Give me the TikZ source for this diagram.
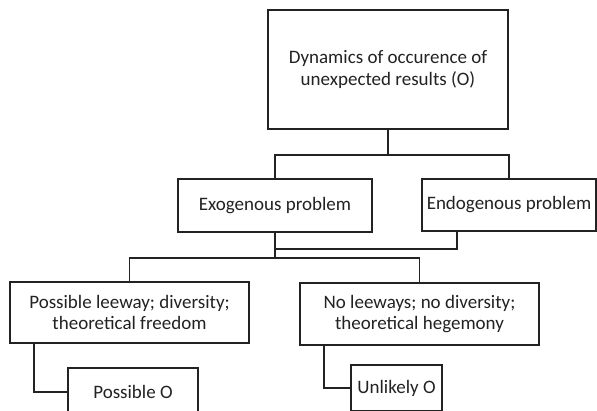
\documentclass[tikz,border=0pt]{standalone}
\usepackage{fontspec}
\setmainfont{Carlito}
\usepackage{xcolor}
\usetikzlibrary{positioning,calc}
\definecolor{ink}{HTML}{222222}

\begin{document}
\begin{tikzpicture}[
  x=1pt, y=-1pt,
  font=\fontsize{19}{21.5}\selectfont,
  box/.style={draw=ink, line width=1.6pt, fill=white, text=ink, align=center, inner sep=0pt},
  link/.style={draw=ink, line width=1.6pt}
]
  \useasboundingbox (0,0) rectangle (597,410);
  \clip (0,0) rectangle (597,410);

  \node[box, minimum width=240pt, minimum height=119pt] (dynamics) at (388,69.5) {Dynamics of occurence of\\unexpected results (O)};

  \node[box, minimum width=194pt, minimum height=53pt] (exo) at (275,205.5) {Exogenous problem};
  \node[box, minimum width=174pt, minimum height=52pt] (endo) at (509,205) {Endogenous problem};

  \node[box, minimum width=239pt, minimum height=61pt] (leeway) at (129.5,312.5) {Possible leeway; diversity;\\theoretical freedom};
  \node[box, minimum width=239pt, minimum height=62pt] (noleeway) at (419.5,314) {No leeways; no diversity;\\theoretical hegemony};

  \node[box, minimum width=130pt, minimum height=48pt] (possible) at (133,392) {Possible O};
  \node[box, minimum width=91pt, minimum height=46pt] (unlikely) at (396.5,388) {Unlikely O};

  \draw[link] (dynamics.south) -- ++(0,25) -| (exo.north);
  \draw[link] (dynamics.south) -- ++(0,25) -| (endo.north);

  \draw[link] ([xshift=-52pt]endo.south) |- ([yshift=-16pt]exo.south);
  \draw[link] (exo.south) -- ++(0,25) -| (leeway.north);
  \draw[link] (exo.south) -- ++(0,25) -| (noleeway.north);

  \draw[link] ([xshift=-95.5pt]leeway.south) |- (possible.west);
  \draw[link] ([xshift=-95.5pt]noleeway.south) |- (unlikely.west);
\end{tikzpicture}
\end{document}
